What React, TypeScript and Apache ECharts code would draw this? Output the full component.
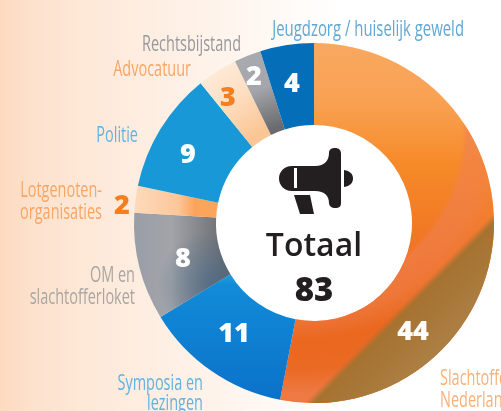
import React, { useEffect, useRef } from "react";
import * as echarts from "echarts";

const categories = ["Slachtoffers Nederland", "Symposia en lezingen", "OM en slachtofferloket", "Lotgenoten-organisaties", "Politie", "Advocatuur", "Rechtsbijstand", "Jeugdzorg / huiselijk geweld"];
const values = [44, 11, 8, 2, 9, 3, 2, 4];
const totalLabel = "Totaal";
const totalValue = "83";
const valuePositions = [[413, 329], [234, 331], [183, 256], [122, 203], [188, 152], [228, 95], [254, 74], [292, 81]];
const valueColors = ["#fff", "#fff", "#fff", "#f47f20", "#fff", "#f47f20", "#fff", "#fff"];

const nameTexts: [string, number, number, string, string][] = [
  ["Jeugdzorg / huiselijk geweld", 464, 28, "right", "#5fa7d6"],
  ["Rechtsbijstand", 241, 43, "right", "#98989b"],
  ["Advocatuur", 191, 68, "right", "#f9a565"],
  ["Politie", 138, 134, "right", "#62b2df"],
  ["Lotgenoten-", 102, 189, "right", "#f9a565"],
  ["organisaties", 102, 211, "right", "#f9a565"],
  ["OM en", 135, 274, "right", "#a9a5a1"],
  ["slachtofferloket", 135, 296, "right", "#a9a5a1"],
  ["Symposia en", 203, 382, "right", "#62b2df"],
  ["lezingen", 203, 402, "right", "#62b2df"],
  ["Slachtoffers", 440, 377, "left", "#fbb077"],
  ["Nederland", 440, 399, "left", "#fbb077"],
];

const megaphone =
  "M292 166 L315 166 C325 166 329 160 329 153 C329 149 332 148 335 148 C339 148 341 150 341 154 L341 203 C341 207 339 208 335 208 C332 208 329 206 329 203 C329 196 325 191 315 191 L292 191 C284 191 279 185 279 178.5 C279 172 284 166 292 166 Z " +
  "M294 195 L310 195 L314 214 L300 214 Z " +
  "M344 170 C350 171 353 174 353 178.5 C353 183 350 186 344 187 Z";

const lin = (x: number, y: number, x2: number, y2: number, stops: [number, string][]) => ({
  type: "linear", x, y, x2, y2, global: true,
  colorStops: stops.map(([offset, color]) => ({ offset, color })),
});
const rad = (x: number, y: number, r: number, stops: [number, string][]) => ({
  type: "radial", x, y, r, global: true,
  colorStops: stops.map(([offset, color]) => ({ offset, color })),
});

const baseColors = [
  lin(0, 45, 0, 330, [[0, "#f9a860"], [0.2, "#f9a153"], [0.42, "#f68a28"], [0.7, "#f07524"], [1, "#e9651a"]]),
  lin(0, 278, 0, 395, [[0, "#169adb"], [0.06, "#128bd8"], [1, "#0b73ca"]]),
  lin(135, 0, 225, 0, [[0, "#9a9ea7"], [0.4, "#a2a4a9"], [1, "#6b6c70"]]),
  lin(135, 0, 220, 0, [[0, "#fddabb"], [0.5, "#fcc79b"], [0.7, "#fba55c"], [1, "#fba55c"]]),
  lin(0, 0, 0, 1, [[0, "#1898d6"], [1, "#1898d6"]]),
  lin(207, 60, 262, 130, [[0, "#fdeedf"], [0.5, "#fde0c4"], [1, "#fbc695"]]),
  lin(240, 50, 270, 130, [[0, "#a9abb0"], [0.5, "#a4a6ab"], [1, "#6a6b6e"]]),
  lin(0, 0, 0, 1, [[0, "#046eb9"], [1, "#046eb9"]]),
];
const clear = "rgba(0,0,0,0)";
const coral = (a: number) => `rgba(240,128,80,${a})`;
const overlayA: any[] = [
  rad(300, 130, 400, [[0, coral(0)], [0.405, coral(0)], [0.418, coral(0.6)], [0.47, coral(0.55)], [0.53, coral(0.08)], [0.6, coral(0.2)], [0.66, coral(0.75)], [1, coral(0.75)]]),
  clear,
  rad(213, 285, 55, [[0, "rgba(60,100,135,0.6)"], [1, "rgba(60,100,135,0)"]]),
  clear, clear, clear, clear, clear,
];
const overlayB: any[] = [
  lin(400, 300, 520, 420, [[0, "rgba(166,114,48,0)"], [0.03, "rgba(166,114,48,0)"], [0.07, "rgba(166,114,48,1)"], [0.35, "#ab7e42"], [1, "#b08a56"]]),
  clear, clear, clear, clear, clear, clear, clear,
];

const CENTER = ["314", "223"].map(Number);
const RADIUS = [98, 180];

const silentPie = (colors: any[]) => ({
  type: "pie", center: CENTER, radius: RADIUS, startAngle: 90, silent: true,
  label: { show: false }, labelLine: { show: false },
  data: values.map((value, i) => ({ value, name: categories[i], itemStyle: { color: colors[i] } })),
});

echarts.graphic.registerShape("megaphone", echarts.graphic.extendPath(megaphone, {}));

export default function App() {
  const ref = useRef<HTMLDivElement>(null);
  useEffect(() => {
    const chart = echarts.init(ref.current!, null, { renderer: "svg" });
    chart.setOption({
      animation: false,
      graphic: {
        elements: [
          {
            type: "rect", z: -10, silent: true,
            shape: { x: 0, y: 0, width: 501, height: 411 },
            style: {
              fill: lin(0, 0, 345, 0, [[0, "#fcdac0"], [0.1, "#fde2cd"], [0.3, "#feeadb"], [0.55, "#fef1e7"], [0.8, "#fff9f5"], [1, "#ffffff"]]),
            },
          },
          { type: "circle", z: -5, silent: true, shape: { cx: 314, cy: 223, r: 99 }, style: { fill: "#ffffff" } },
          ...nameTexts.map(([text, x, y, align, fill], i) => ({
            type: "text", x, y, scaleX: i === 0 ? 0.71 : 0.69, z: 10,
            style: { text, fill, align, verticalAlign: "middle", fontFamily: "Open Sans", fontSize: 21, fontWeight: 400 },
          })),
          { type: "megaphone", x: 0, y: 0, z: 10, style: { fill: "#231f20" } },
          { type: "rect", z: 11, shape: { x: 294, y: 168, width: 3, height: 20 }, style: { fill: "#fff" } },
          {
            type: "text", x: 314, y: 243, z: 10,
            style: { text: totalLabel, fill: "#231f20", align: "center", verticalAlign: "middle", fontFamily: "Open Sans", fontSize: 32, fontWeight: 600 },
          },
          {
            type: "text", x: 314, y: 288, z: 10,
            style: { text: totalValue, fill: "#231f20", align: "center", verticalAlign: "middle", fontFamily: "Open Sans", fontSize: 33, fontWeight: 800 },
          },
        ],
      },
      series: [
        {
          type: "pie", center: CENTER, radius: RADIUS, startAngle: 90, silent: true, z: 2,
          avoidLabelOverlap: false, labelLine: { show: false },
          data: values.map((value, i) => ({
            value, name: categories[i],
            itemStyle: { color: baseColors[i] },
            label: { show: false },
          })),
        },
        { ...silentPie(overlayA), z: 3 },
        { ...silentPie(overlayB), z: 4 },
        {
          type: "pie", center: CENTER, radius: RADIUS, startAngle: 90, silent: true, z: 5,
          avoidLabelOverlap: false, labelLine: { show: false },
          itemStyle: { color: clear },
          labelLayout: (p: any) => ({
            x: valuePositions[p.dataIndex][0], y: valuePositions[p.dataIndex][1],
            align: "center", verticalAlign: "middle",
          }),
          data: values.map((value, i) => ({
            value, name: categories[i],
            label: { show: true, position: "inside", formatter: "{c}", color: valueColors[i], fontFamily: "Open Sans", fontSize: 27, fontWeight: 800, textBorderWidth: 0 },
          })),
        },
      ],
    });
    return () => chart.dispose();
  }, []);
  return <div ref={ref} style={{ position: "fixed", left: 0, top: 0, width: 501, height: 411 }} />;
}
